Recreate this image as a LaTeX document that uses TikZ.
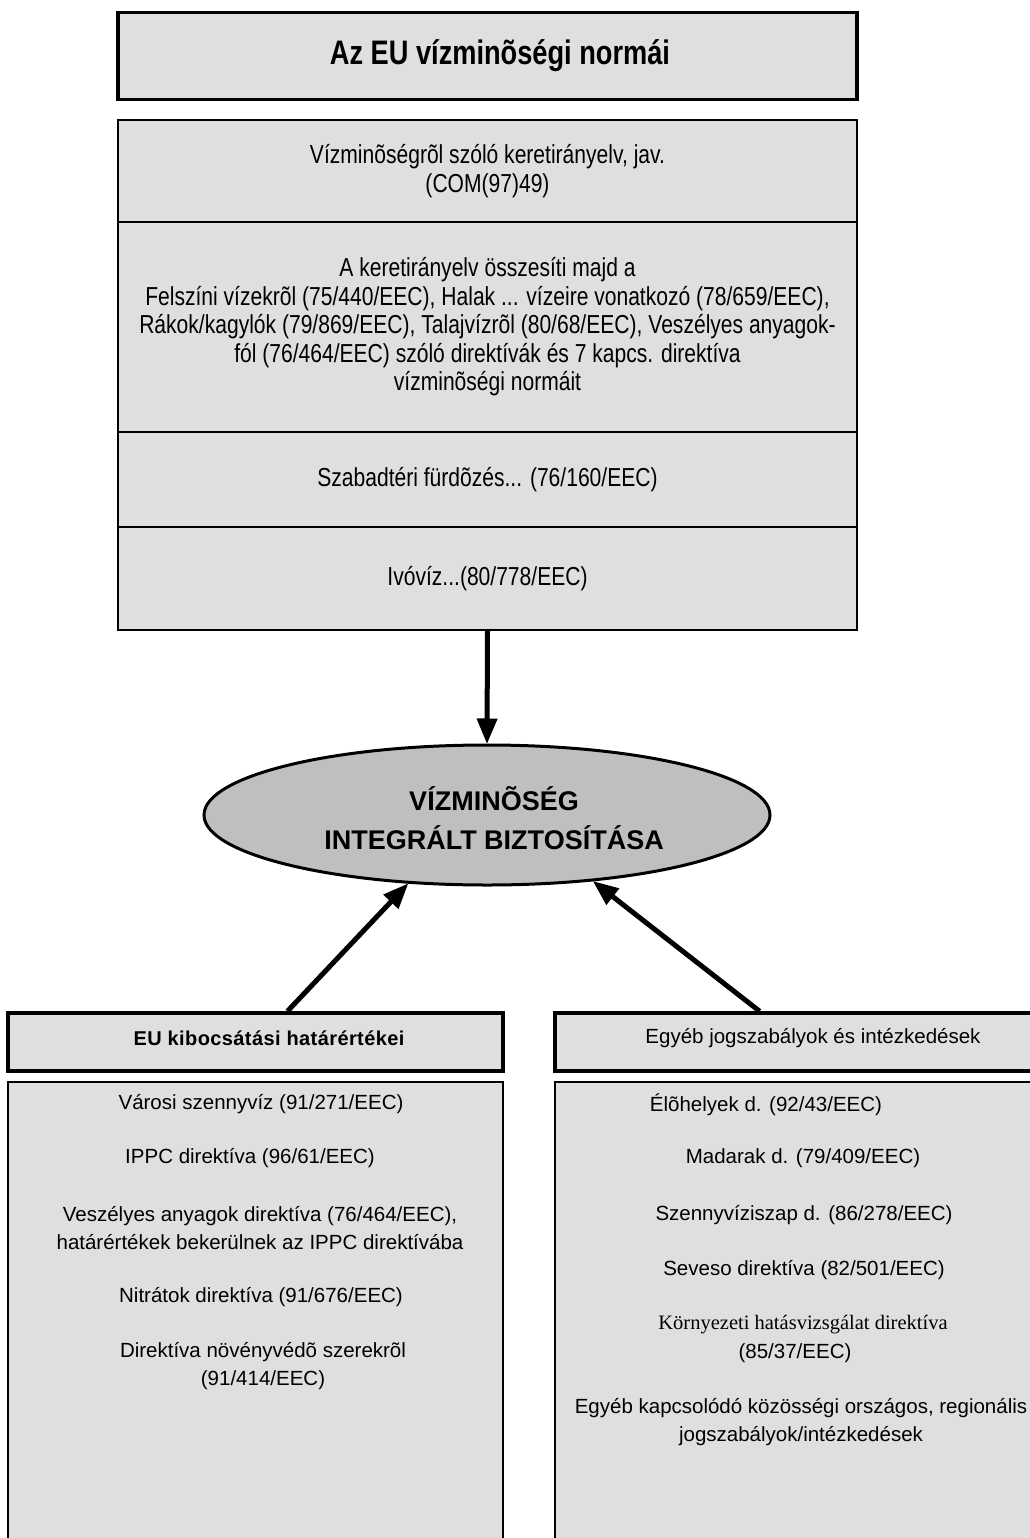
\documentclass[tikz,border=0pt]{standalone}
\usepackage{fontspec}
\setmainfont{Liberation Sans}
\newfontfamily\narrowfont[FakeStretch=0.81]{Liberation Sans}
\newfontfamily\titlefont[FakeStretch=0.8]{Liberation Sans}
\newfontfamily\spacedfont[LetterSpace=2.0]{Liberation Sans}
\newfontfamily\seriffont{Liberation Serif}
\usepackage{tikz}
\usetikzlibrary{arrows,shapes,calc}
\definecolor{boxgray}{gray}{0.875}
\definecolor{ovalgray}{gray}{0.75}
\tikzstyle{panel}=[draw, fill=boxgray, line width=1.3pt, minimum width=739pt, inner sep=0pt, align=center, font=\narrowfont\fontsize{26}{28.5}\selectfont]
\tikzstyle{headbox}=[draw, fill=boxgray, line width=3.5pt, minimum width=495pt, minimum height=58pt, inner sep=0pt]
\tikzstyle{listbox}=[draw, fill=boxgray, line width=2.4pt, minimum width=495pt, minimum height=478pt]
\tikzstyle{entry}=[align=center, inner sep=0pt, font=\fontsize{20.5}{28}\selectfont]
\tikzstyle{bigarrow}=[-triangle 45, line width=5pt]

\begin{document}
\begin{tikzpicture}[x=1pt,y=-1pt]
	\useasboundingbox (0,0) rectangle (1029,1538);
	\node[draw, fill=boxgray, line width=3.3pt, minimum width=739pt, minimum height=87pt] (norms) at (487.5,56) {};
	\node[font=\titlefont\bfseries\fontsize{34}{40}\selectfont] (normstitle) at (500,56) {Az EU vízminõségi normái};
	\node[panel, minimum height=102pt] (frame) at (487.5,171) {Vízminõségrõl szóló keretirányelv, jav.\\(COM(97)49)};
	\node[panel, minimum height=210pt] (merge) at (487.5,327) {A keretirányelv összesíti majd a\\Felszíni vízekrõl (75/440/EEC), Halak ... vízeire vonatkozó (78/659/EEC),\\Rákok/kagylók (79/869/EEC), Talajvízrõl (80/68/EEC), Veszélyes anyagok-\\fól (76/464/EEC) szóló direktívák és 7 kapcs. direktíva\\vízminõségi normáit};
	\node[panel, minimum height=95pt] (bathing) at (487.5,479.5) {Szabadtéri fürdõzés... (76/160/EEC)};
	\node[panel, minimum height=103pt] (drinking) at (487.5,578.5) {Ivóvíz...(80/778/EEC)};

	\node[ellipse, draw, fill=ovalgray, line width=3pt, minimum width=566pt, minimum height=140pt, inner sep=0pt] (quality) at (487,815) {};
	\node[align=center, font=\bfseries\fontsize{27}{39}\selectfont] (qualitytitle) at (494,818) {VÍZMINÕSÉG\\INTEGRÁLT BIZTOSÍTÁSA};

	\node[headbox] (limits) at (255.5,1042) {};
	\node[font=\spacedfont\bfseries\fontsize{20}{24}\selectfont] (limitstitle) at (269,1038) {EU kibocsátási határértékei};
	\node[headbox] (other) at (802.5,1042) {};
	\node[font=\fontsize{20.5}{24}\selectfont] (othertitle) at (813,1038) {Egyéb jogszabályok és intézkedések};
	\node[listbox] (limitlist) at (255.5,1321) {};
	\node[listbox] (otherlist) at (802.5,1321) {};

	\node[entry] (urban) at (261,1104) {Városi szennyvíz (91/271/EEC)};
	\node[entry] (ippc) at (250,1158) {IPPC direktíva (96/61/EEC)};
	\node[entry] (danger) at (260,1228) {Veszélyes anyagok direktíva (76/464/EEC),\\határértékek bekerülnek az IPPC direktívába};
	\node[entry] (nitrate) at (261,1297) {Nitrátok direktíva (91/676/EEC)};
	\node[entry] (pesticide) at (263,1366) {Direktíva növényvédõ szerekrõl\\(91/414/EEC)};

	\node[entry] (habitat) at (766,1105) {Élõhelyek d. (92/43/EEC)};
	\node[entry] (birds) at (803,1158) {Madarak d. (79/409/EEC)};
	\node[entry] (sludge) at (804,1215) {Szennyvíziszap d. (86/278/EEC)};
	\node[entry] (seveso) at (804,1270) {Seveso direktíva (82/501/EEC)};
	\node[entry, font=\seriffont\fontsize{20.5}{28}\selectfont] (eia) at (803,1325) {Környezeti hatásvizsgálat direktíva};
	\node[entry] (eiacode) at (795,1353) {(85/37/EEC)};
	\node[entry] (misc) at (801,1422) {Egyéb kapcsolódó közösségi országos, regionális\\jogszabályok/intézkedések};

	\coordinate (lfoot) at ($(limits.north west)!0.564!(limits.north east)$);
	\coordinate (rfoot) at ($(other.north west)!0.414!(other.north east)$);
	\draw[bigarrow] (drinking.south) -- (quality.north);
	\draw[bigarrow] (lfoot) -- (quality.221);
	\draw[bigarrow] (rfoot) -- (quality.328);
\end{tikzpicture}
\end{document}
